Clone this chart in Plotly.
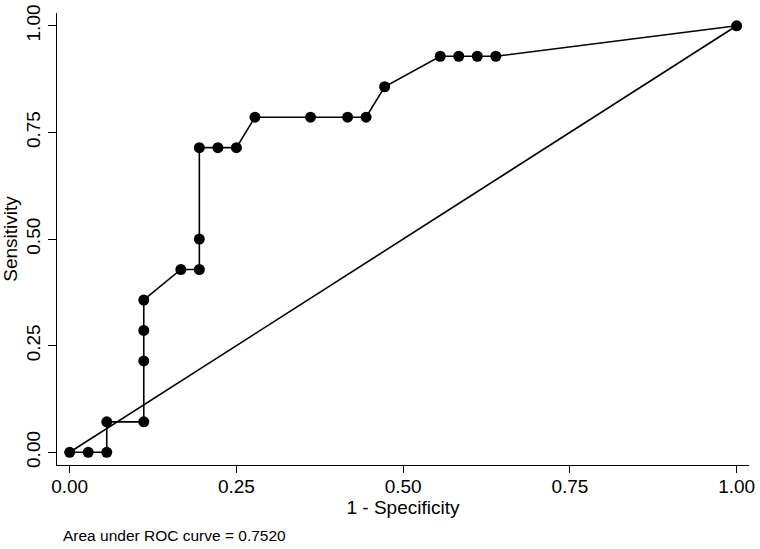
import plotly.graph_objects as go

# ROC points (1 - specificity, sensitivity)
fpr = [0.0, 0.0278, 0.0556, 0.0556, 0.1111, 0.1111, 0.1111, 0.1111, 0.1667, 0.1944,
       0.1944, 0.1944, 0.2222, 0.25, 0.2778, 0.3611, 0.4167, 0.4444, 0.4722, 0.5556,
       0.5833, 0.6111, 0.6389, 1.0]
tpr = [0.0, 0.0, 0.0, 0.0714, 0.0714, 0.2143, 0.2857, 0.3571, 0.4286, 0.4286,
       0.5, 0.7143, 0.7143, 0.7143, 0.7857, 0.7857, 0.7857, 0.7857, 0.8571, 0.9286,
       0.9286, 0.9286, 0.9286, 1.0]
ref_x = [0.0, 1.0]
ref_y = [0.0, 1.0]
tick_vals = [0.0, 0.25, 0.5, 0.75, 1.0]
tick_text = ["0.00", "0.25", "0.50", "0.75", "1.00"]
auc_note = "Area under ROC curve = 0.7520"

FONT = "Liberation Sans, Arial, Helvetica, sans-serif"

fig = go.Figure()
fig.add_trace(go.Scatter(x=ref_x, y=ref_y, mode="lines",
                         line=dict(color="black", width=1.6), hoverinfo="skip"))
fig.add_trace(go.Scatter(x=fpr, y=tpr, mode="lines+markers",
                         line=dict(color="black", width=1.6),
                         marker=dict(color="black", size=11)))

fig.update_layout(
    width=760, height=549,
    margin=dict(l=57, r=11, t=13, b=84, autoexpand=False),
    paper_bgcolor="white", plot_bgcolor="white",
    showlegend=False,
    font=dict(family=FONT, color="black", size=19),
    xaxis=dict(range=[-0.019, 1.0185], tickvals=tick_vals, ticktext=tick_text,
               automargin=False, ticklabelstandoff=-3,
               showgrid=False, zeroline=False, showline=True, linecolor="black",
               linewidth=1.2, ticks="outside", ticklen=7, tickwidth=1.2,
               tickcolor="black", tickfont=dict(size=19),
               title=dict(text="1 - Specificity", font=dict(size=19), standoff=0)),
    yaxis=dict(range=[-0.0298, 1.03], tickvals=tick_vals, ticktext=tick_text,
               tickangle=-90, automargin=False,
               showgrid=False, zeroline=False, showline=True, linecolor="black",
               linewidth=1.2, ticks="outside", ticklen=8, tickwidth=1.2,
               tickcolor="black", tickfont=dict(size=19),
               title=dict(text="Sensitivity", font=dict(size=19), standoff=4)),
    annotations=[dict(text=auc_note, xref="paper", yref="paper",
                      x=(60.5 - 57) / 692, y=-(535 - 465) / 452,
                      xanchor="left", yanchor="middle", showarrow=False,
                      font=dict(size=15.5, family=FONT))],
)

fig.write_html("out.html", config={"displayModeBar": False},
               post_script="document.body.style.margin='0';document.body.style.padding='0';")
